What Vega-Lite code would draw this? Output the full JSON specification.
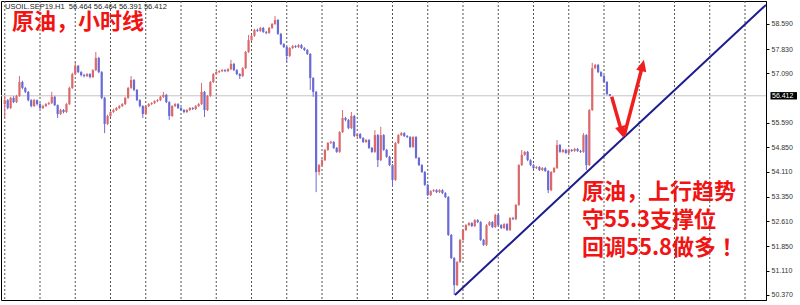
{
  "$schema": "https://vega.github.io/schema/vega-lite/v6.json",
  "width": 765,
  "height": 299,
  "autosize": {"type": "none"},
  "padding": {"left": 1, "top": 1, "right": 34, "bottom": 5},
  "background": "#ffffff",
  "config": {
    "view": {"stroke": "#000000", "strokeWidth": 1},
    "axisY": {
      "orient": "right", "title": null, "grid": false,
      "labelFont": "Liberation Sans", "labelFontSize": 7, "labelColor": "#333333",
      "tickColor": "#000000", "tickSize": 3, "domainColor": "#000000", "labelPadding": 2,
      "labelOverlap": false
    }
  },
  "datasets": {
    "candles": [
      {"t":0,"o":56.16,"h":56.41,"l":55.74,"c":56.28},
      {"t":1,"o":56.28,"h":56.31,"l":56.00,"c":56.04},
      {"t":2,"o":56.04,"h":56.38,"l":56.01,"c":56.35},
      {"t":3,"o":56.35,"h":56.40,"l":56.19,"c":56.22},
      {"t":4,"o":56.22,"h":56.44,"l":56.19,"c":56.41},
      {"t":5,"o":56.41,"h":57.01,"l":56.38,"c":56.83},
      {"t":6,"o":56.83,"h":56.87,"l":56.61,"c":56.65},
      {"t":7,"o":56.65,"h":56.68,"l":56.49,"c":56.53},
      {"t":8,"o":56.53,"h":56.56,"l":56.24,"c":56.28},
      {"t":9,"o":56.28,"h":56.31,"l":56.06,"c":56.10},
      {"t":10,"o":56.10,"h":56.32,"l":56.07,"c":56.28},
      {"t":11,"o":56.28,"h":56.30,"l":56.12,"c":56.16},
      {"t":12,"o":56.16,"h":56.19,"l":56.00,"c":56.04},
      {"t":13,"o":56.04,"h":56.14,"l":56.01,"c":56.10},
      {"t":14,"o":56.10,"h":56.19,"l":56.07,"c":56.16},
      {"t":15,"o":56.16,"h":56.23,"l":56.13,"c":56.19},
      {"t":16,"o":56.19,"h":56.53,"l":56.16,"c":56.38},
      {"t":17,"o":56.38,"h":56.41,"l":56.10,"c":56.13},
      {"t":18,"o":56.13,"h":56.15,"l":55.74,"c":55.86},
      {"t":19,"o":55.86,"h":56.02,"l":55.83,"c":55.98},
      {"t":20,"o":55.98,"h":56.01,"l":55.88,"c":55.92},
      {"t":21,"o":55.92,"h":56.19,"l":55.89,"c":56.16},
      {"t":22,"o":56.16,"h":56.69,"l":56.13,"c":56.65},
      {"t":23,"o":56.65,"h":57.11,"l":56.62,"c":57.07},
      {"t":24,"o":57.07,"h":57.44,"l":57.04,"c":57.32},
      {"t":25,"o":57.32,"h":57.35,"l":57.10,"c":57.13},
      {"t":26,"o":57.13,"h":57.16,"l":57.00,"c":57.04},
      {"t":27,"o":57.04,"h":57.08,"l":56.97,"c":57.01},
      {"t":28,"o":57.01,"h":57.10,"l":56.98,"c":57.07},
      {"t":29,"o":57.07,"h":57.10,"l":56.94,"c":56.98},
      {"t":30,"o":56.98,"h":57.22,"l":56.95,"c":57.19},
      {"t":31,"o":57.19,"h":57.74,"l":57.16,"c":57.56},
      {"t":32,"o":57.56,"h":57.59,"l":57.10,"c":57.13},
      {"t":33,"o":57.13,"h":57.16,"l":56.31,"c":56.35},
      {"t":34,"o":56.35,"h":56.38,"l":55.28,"c":55.56},
      {"t":35,"o":55.56,"h":55.84,"l":55.52,"c":55.80},
      {"t":36,"o":55.80,"h":55.95,"l":55.77,"c":55.92},
      {"t":37,"o":55.92,"h":56.02,"l":55.89,"c":55.98},
      {"t":38,"o":55.98,"h":56.07,"l":55.95,"c":56.04},
      {"t":39,"o":56.04,"h":56.13,"l":56.01,"c":56.10},
      {"t":40,"o":56.10,"h":56.19,"l":56.07,"c":56.16},
      {"t":41,"o":56.16,"h":56.38,"l":56.13,"c":56.35},
      {"t":42,"o":56.35,"h":56.68,"l":56.32,"c":56.65},
      {"t":43,"o":56.65,"h":57.01,"l":56.62,"c":56.89},
      {"t":44,"o":56.89,"h":56.92,"l":56.55,"c":56.59},
      {"t":45,"o":56.59,"h":56.62,"l":56.25,"c":56.28},
      {"t":46,"o":56.28,"h":56.31,"l":56.06,"c":56.10},
      {"t":47,"o":56.10,"h":56.13,"l":55.74,"c":55.86},
      {"t":48,"o":55.86,"h":56.13,"l":55.83,"c":56.10},
      {"t":49,"o":56.10,"h":56.19,"l":56.07,"c":56.16},
      {"t":50,"o":56.16,"h":56.22,"l":56.13,"c":56.19},
      {"t":51,"o":56.19,"h":56.28,"l":56.16,"c":56.25},
      {"t":52,"o":56.25,"h":56.31,"l":56.22,"c":56.28},
      {"t":53,"o":56.28,"h":56.41,"l":56.25,"c":56.38},
      {"t":54,"o":56.38,"h":56.53,"l":56.35,"c":56.44},
      {"t":55,"o":56.44,"h":56.47,"l":56.19,"c":56.22},
      {"t":56,"o":56.22,"h":56.25,"l":55.68,"c":55.80},
      {"t":57,"o":55.80,"h":56.13,"l":55.77,"c":56.10},
      {"t":58,"o":56.10,"h":56.19,"l":56.07,"c":56.16},
      {"t":59,"o":56.16,"h":56.19,"l":56.01,"c":56.04},
      {"t":60,"o":56.04,"h":56.07,"l":55.95,"c":55.98},
      {"t":61,"o":55.98,"h":56.01,"l":55.88,"c":55.92},
      {"t":62,"o":55.92,"h":56.01,"l":55.89,"c":55.98},
      {"t":63,"o":55.98,"h":56.07,"l":55.95,"c":56.04},
      {"t":64,"o":56.04,"h":56.07,"l":55.98,"c":56.01},
      {"t":65,"o":56.01,"h":56.13,"l":55.98,"c":56.10},
      {"t":66,"o":56.10,"h":56.19,"l":56.07,"c":56.16},
      {"t":67,"o":56.16,"h":56.80,"l":56.13,"c":56.53},
      {"t":68,"o":56.53,"h":56.56,"l":55.77,"c":55.98},
      {"t":69,"o":55.98,"h":56.44,"l":55.95,"c":56.41},
      {"t":70,"o":56.41,"h":56.86,"l":56.38,"c":56.83},
      {"t":71,"o":56.83,"h":57.10,"l":56.80,"c":57.07},
      {"t":72,"o":57.07,"h":57.16,"l":57.04,"c":57.13},
      {"t":73,"o":57.13,"h":57.19,"l":57.10,"c":57.16},
      {"t":74,"o":57.16,"h":57.22,"l":57.13,"c":57.19},
      {"t":75,"o":57.19,"h":57.22,"l":57.13,"c":57.16},
      {"t":76,"o":57.16,"h":57.25,"l":57.13,"c":57.22},
      {"t":77,"o":57.22,"h":57.50,"l":57.19,"c":57.38},
      {"t":78,"o":57.38,"h":57.41,"l":57.16,"c":57.19},
      {"t":79,"o":57.19,"h":57.22,"l":57.04,"c":57.07},
      {"t":80,"o":57.07,"h":57.10,"l":56.92,"c":57.01},
      {"t":81,"o":57.01,"h":57.28,"l":56.98,"c":57.25},
      {"t":82,"o":57.25,"h":57.77,"l":57.22,"c":57.74},
      {"t":83,"o":57.74,"h":58.26,"l":57.71,"c":58.10},
      {"t":84,"o":58.10,"h":58.26,"l":58.07,"c":58.23},
      {"t":85,"o":58.23,"h":58.44,"l":58.20,"c":58.41},
      {"t":86,"o":58.41,"h":58.45,"l":58.35,"c":58.38},
      {"t":87,"o":58.38,"h":58.50,"l":58.35,"c":58.47},
      {"t":88,"o":58.47,"h":58.50,"l":58.32,"c":58.35},
      {"t":89,"o":58.35,"h":58.38,"l":58.28,"c":58.32},
      {"t":90,"o":58.32,"h":58.50,"l":58.29,"c":58.47},
      {"t":91,"o":58.47,"h":58.62,"l":58.44,"c":58.59},
      {"t":92,"o":58.59,"h":58.83,"l":58.56,"c":58.71},
      {"t":93,"o":58.71,"h":58.74,"l":58.26,"c":58.29},
      {"t":94,"o":58.29,"h":58.32,"l":57.95,"c":57.98},
      {"t":95,"o":57.98,"h":58.01,"l":57.86,"c":57.89},
      {"t":96,"o":57.89,"h":57.92,"l":57.44,"c":57.62},
      {"t":97,"o":57.62,"h":57.89,"l":57.59,"c":57.86},
      {"t":98,"o":57.86,"h":57.95,"l":57.83,"c":57.92},
      {"t":99,"o":57.92,"h":57.95,"l":57.86,"c":57.89},
      {"t":100,"o":57.89,"h":57.98,"l":57.86,"c":57.95},
      {"t":101,"o":57.95,"h":57.98,"l":57.83,"c":57.86},
      {"t":102,"o":57.86,"h":57.89,"l":57.77,"c":57.80},
      {"t":103,"o":57.80,"h":57.83,"l":57.65,"c":57.68},
      {"t":104,"o":57.68,"h":57.71,"l":56.59,"c":56.95},
      {"t":105,"o":56.95,"h":56.98,"l":56.38,"c":56.53},
      {"t":106,"o":56.53,"h":56.56,"l":53.49,"c":54.10},
      {"t":107,"o":54.10,"h":54.34,"l":54.00,"c":54.31},
      {"t":108,"o":54.31,"h":54.50,"l":54.27,"c":54.46},
      {"t":109,"o":54.46,"h":54.80,"l":54.43,"c":54.77},
      {"t":110,"o":54.77,"h":55.01,"l":54.74,"c":54.98},
      {"t":111,"o":54.98,"h":55.05,"l":54.95,"c":55.01},
      {"t":112,"o":55.01,"h":55.04,"l":54.80,"c":54.83},
      {"t":113,"o":54.83,"h":54.86,"l":54.68,"c":54.71},
      {"t":114,"o":54.71,"h":55.34,"l":54.68,"c":55.31},
      {"t":115,"o":55.31,"h":55.98,"l":55.28,"c":55.74},
      {"t":116,"o":55.74,"h":55.77,"l":55.64,"c":55.68},
      {"t":117,"o":55.68,"h":55.71,"l":55.40,"c":55.43},
      {"t":118,"o":55.43,"h":55.92,"l":55.40,"c":55.80},
      {"t":119,"o":55.80,"h":55.83,"l":55.16,"c":55.19},
      {"t":120,"o":55.19,"h":55.28,"l":55.16,"c":55.25},
      {"t":121,"o":55.25,"h":55.28,"l":55.10,"c":55.13},
      {"t":122,"o":55.13,"h":55.16,"l":54.98,"c":55.01},
      {"t":123,"o":55.01,"h":55.10,"l":54.98,"c":55.07},
      {"t":124,"o":55.07,"h":55.10,"l":54.80,"c":54.83},
      {"t":125,"o":54.83,"h":54.86,"l":54.68,"c":54.71},
      {"t":126,"o":54.71,"h":55.37,"l":54.68,"c":55.22},
      {"t":127,"o":55.22,"h":55.25,"l":54.25,"c":54.46},
      {"t":128,"o":54.46,"h":55.47,"l":54.43,"c":55.22},
      {"t":129,"o":55.22,"h":55.25,"l":54.74,"c":54.77},
      {"t":130,"o":54.77,"h":54.80,"l":54.53,"c":54.56},
      {"t":131,"o":54.56,"h":54.59,"l":54.28,"c":54.31},
      {"t":132,"o":54.31,"h":54.34,"l":53.65,"c":53.86},
      {"t":133,"o":53.86,"h":55.01,"l":53.83,"c":54.98},
      {"t":134,"o":54.98,"h":55.25,"l":54.95,"c":55.22},
      {"t":135,"o":55.22,"h":55.31,"l":55.19,"c":55.28},
      {"t":136,"o":55.28,"h":55.31,"l":55.16,"c":55.19},
      {"t":137,"o":55.19,"h":55.22,"l":55.13,"c":55.16},
      {"t":138,"o":55.16,"h":55.19,"l":54.83,"c":54.86},
      {"t":139,"o":54.86,"h":55.19,"l":54.83,"c":55.16},
      {"t":140,"o":55.16,"h":55.19,"l":54.50,"c":54.53},
      {"t":141,"o":54.53,"h":54.56,"l":54.28,"c":54.31},
      {"t":142,"o":54.31,"h":54.34,"l":54.07,"c":54.10},
      {"t":143,"o":54.10,"h":54.13,"l":53.68,"c":53.71},
      {"t":144,"o":53.71,"h":53.74,"l":53.37,"c":53.40},
      {"t":145,"o":53.40,"h":53.55,"l":53.37,"c":53.52},
      {"t":146,"o":53.52,"h":53.58,"l":53.49,"c":53.55},
      {"t":147,"o":53.55,"h":53.58,"l":53.46,"c":53.49},
      {"t":148,"o":53.49,"h":53.58,"l":53.46,"c":53.55},
      {"t":149,"o":53.55,"h":53.58,"l":53.43,"c":53.46},
      {"t":150,"o":53.46,"h":53.49,"l":53.31,"c":53.34},
      {"t":151,"o":53.34,"h":53.37,"l":52.16,"c":52.19},
      {"t":152,"o":52.19,"h":52.22,"l":51.46,"c":51.49},
      {"t":153,"o":51.49,"h":51.52,"l":50.37,"c":50.67},
      {"t":154,"o":50.67,"h":51.40,"l":50.64,"c":51.37},
      {"t":155,"o":51.37,"h":52.07,"l":51.34,"c":52.04},
      {"t":156,"o":52.04,"h":52.37,"l":52.01,"c":52.34},
      {"t":157,"o":52.34,"h":52.52,"l":52.31,"c":52.49},
      {"t":158,"o":52.49,"h":52.58,"l":52.46,"c":52.55},
      {"t":159,"o":52.55,"h":52.58,"l":52.43,"c":52.46},
      {"t":160,"o":52.46,"h":52.67,"l":52.43,"c":52.64},
      {"t":161,"o":52.64,"h":52.67,"l":52.55,"c":52.58},
      {"t":162,"o":52.58,"h":52.61,"l":52.01,"c":52.04},
      {"t":163,"o":52.04,"h":52.07,"l":51.86,"c":51.89},
      {"t":164,"o":51.89,"h":52.52,"l":51.86,"c":52.49},
      {"t":165,"o":52.49,"h":52.61,"l":52.46,"c":52.58},
      {"t":166,"o":52.58,"h":52.61,"l":52.40,"c":52.43},
      {"t":167,"o":52.43,"h":52.83,"l":52.40,"c":52.80},
      {"t":168,"o":52.80,"h":52.83,"l":52.46,"c":52.49},
      {"t":169,"o":52.49,"h":52.52,"l":52.37,"c":52.40},
      {"t":170,"o":52.40,"h":52.55,"l":52.37,"c":52.52},
      {"t":171,"o":52.52,"h":52.55,"l":52.31,"c":52.34},
      {"t":172,"o":52.34,"h":52.73,"l":52.31,"c":52.70},
      {"t":173,"o":52.70,"h":52.74,"l":52.64,"c":52.67},
      {"t":174,"o":52.67,"h":53.13,"l":52.64,"c":53.10},
      {"t":175,"o":53.10,"h":54.34,"l":53.07,"c":54.31},
      {"t":176,"o":54.31,"h":54.77,"l":54.28,"c":54.62},
      {"t":177,"o":54.62,"h":54.74,"l":54.59,"c":54.71},
      {"t":178,"o":54.71,"h":54.74,"l":54.43,"c":54.46},
      {"t":179,"o":54.46,"h":54.49,"l":54.28,"c":54.31},
      {"t":180,"o":54.31,"h":54.34,"l":54.19,"c":54.22},
      {"t":181,"o":54.22,"h":54.28,"l":54.19,"c":54.25},
      {"t":182,"o":54.25,"h":54.28,"l":54.13,"c":54.16},
      {"t":183,"o":54.16,"h":54.25,"l":54.13,"c":54.22},
      {"t":184,"o":54.22,"h":54.25,"l":54.10,"c":54.13},
      {"t":185,"o":54.13,"h":54.16,"l":53.46,"c":53.55},
      {"t":186,"o":53.55,"h":54.13,"l":53.52,"c":54.10},
      {"t":187,"o":54.10,"h":54.25,"l":54.07,"c":54.22},
      {"t":188,"o":54.22,"h":55.07,"l":54.19,"c":54.92},
      {"t":189,"o":54.92,"h":54.95,"l":54.68,"c":54.71},
      {"t":190,"o":54.71,"h":54.80,"l":54.68,"c":54.77},
      {"t":191,"o":54.77,"h":54.80,"l":54.65,"c":54.68},
      {"t":192,"o":54.68,"h":54.80,"l":54.65,"c":54.77},
      {"t":193,"o":54.77,"h":54.80,"l":54.71,"c":54.74},
      {"t":194,"o":54.74,"h":54.83,"l":54.71,"c":54.80},
      {"t":195,"o":54.80,"h":54.83,"l":54.71,"c":54.74},
      {"t":196,"o":54.74,"h":54.77,"l":54.68,"c":54.71},
      {"t":197,"o":54.71,"h":55.28,"l":54.68,"c":55.22},
      {"t":198,"o":55.22,"h":55.25,"l":54.16,"c":54.31},
      {"t":199,"o":54.31,"h":56.01,"l":54.28,"c":55.98},
      {"t":200,"o":55.98,"h":57.41,"l":55.95,"c":57.25},
      {"t":201,"o":57.25,"h":57.38,"l":57.22,"c":57.35},
      {"t":202,"o":57.35,"h":57.38,"l":57.10,"c":57.13},
      {"t":203,"o":57.13,"h":57.16,"l":56.98,"c":57.01},
      {"t":204,"o":57.01,"h":57.04,"l":56.80,"c":56.83},
      {"t":205,"o":56.83,"h":56.86,"l":56.43,"c":56.464},
      {"t":206,"o":56.464,"h":56.464,"l":56.391,"c":56.412}
    ],
    "grid": [
      {"t":0},{"t":12},{"t":24},{"t":36},{"t":48},{"t":60},{"t":72},{"t":84},{"t":96},{"t":108},{"t":120},
      {"t":132},{"t":144},{"t":156},{"t":168},{"t":180},{"t":192},{"t":204},{"t":216},{"t":228},{"t":240},{"t":252}
    ],
    "trend": [
      {"t": 153.27, "p": 50.37},
      {"t": 259.15, "p": 59.17}
    ],
    "arrows": [
      {"arrow": "down", "t": 206.62, "p": 56.38},
      {"arrow": "down", "t": 209.95, "p": 55.34},
      {"arrow": "up", "t": 210.81, "p": 55.19},
      {"arrow": "up", "t": 217.07, "p": 57.31}
    ],
    "heads": [
      {"arrow": "down", "t": 209.95, "p": 55.34, "dir": 164},
      {"arrow": "up", "t": 217.07, "p": 57.31, "dir": 14}
    ],
    "notes": [
      {"t": 2.5, "p": 58.665, "text": "原油，小时线"},
      {"t": 196.5, "p": 53.48, "text": "原油，上行趋势"},
      {"t": 196.5, "p": 52.64, "text": "守55.3支撑位"},
      {"t": 196.5, "p": 51.81, "text": "回调55.8做多！"}
    ],
    "header": [
      {"t": 0.1, "p": 59.11, "text": "USOIL.SEP19.H1\u00a0\u00a056.464 56.464 56.391 56.412"}
    ],
    "last": [
      {"p": 56.412, "label": "56.412"}
    ]
  },
  "layer": [
    {
      "data": {"name": "grid"},
      "mark": {"type": "rule", "color": "#555555", "strokeWidth": 1, "strokeDash": [2, 2]},
      "encoding": {
        "x": {"field": "t", "type": "quantitative", "scale": {"domain": [-1.28, 259.15], "nice": false, "zero": false}, "axis": null}
      }
    },
    {
      "data": {"name": "last"},
      "mark": {"type": "rule", "color": "#c4c4c4", "strokeWidth": 1},
      "encoding": {
        "y": {"field": "p", "type": "quantitative", "scale": {"domain": [50.218, 59.287], "nice": false, "zero": false}, "axis": {"values": [50.37, 51.11, 51.85, 52.61, 53.35, 54.11, 54.85, 55.59, 57.09, 57.83, 58.59], "format": ".3f"}}
      }
    },
    {
      "data": {"name": "candles"},
      "mark": {"type": "rule", "strokeWidth": 1},
      "encoding": {
        "x": {"field": "t", "type": "quantitative", "scale": {"domain": [-1.28, 259.15], "nice": false, "zero": false}, "axis": null},
        "y": {"field": "l", "type": "quantitative", "scale": {"domain": [50.218, 59.287], "nice": false, "zero": false}, "axis": {"values": [50.37, 51.11, 51.85, 52.61, 53.35, 54.11, 54.85, 55.59, 57.09, 57.83, 58.59], "format": ".3f"}},
        "y2": {"field": "h"},
        "color": {"condition": {"test": "datum.c >= datum.o", "value": "#d9696b"}, "value": "#6a6ad4"}
      }
    },
    {
      "data": {"name": "candles"},
      "mark": {"type": "rule", "strokeWidth": 2.2},
      "encoding": {
        "x": {"field": "t", "type": "quantitative", "scale": {"domain": [-1.28, 259.15], "nice": false, "zero": false}, "axis": null},
        "y": {"field": "o", "type": "quantitative", "scale": {"domain": [50.218, 59.287], "nice": false, "zero": false}, "axis": {"values": [50.37, 51.11, 51.85, 52.61, 53.35, 54.11, 54.85, 55.59, 57.09, 57.83, 58.59], "format": ".3f"}},
        "y2": {"field": "c"},
        "color": {"condition": {"test": "datum.c >= datum.o", "value": "#d9696b"}, "value": "#6a6ad4"}
      }
    },
    {
      "data": {"name": "trend"},
      "mark": {"type": "line", "color": "#1c1c8e", "strokeWidth": 2},
      "encoding": {
        "x": {"field": "t", "type": "quantitative", "scale": {"domain": [-1.28, 259.15], "nice": false, "zero": false}, "axis": null},
        "y": {"field": "p", "type": "quantitative", "scale": {"domain": [50.218, 59.287], "nice": false, "zero": false}, "axis": {"values": [50.37, 51.11, 51.85, 52.61, 53.35, 54.11, 54.85, 55.59, 57.09, 57.83, 58.59], "format": ".3f"}}
      }
    },
    {
      "data": {"name": "arrows"},
      "mark": {"type": "line", "color": "#f01e1e", "strokeWidth": 3.5},
      "encoding": {
        "x": {"field": "t", "type": "quantitative", "scale": {"domain": [-1.28, 259.15], "nice": false, "zero": false}, "axis": null},
        "y": {"field": "p", "type": "quantitative", "scale": {"domain": [50.218, 59.287], "nice": false, "zero": false}, "axis": {"values": [50.37, 51.11, 51.85, 52.61, 53.35, 54.11, 54.85, 55.59, 57.09, 57.83, 58.59], "format": ".3f"}},
        "detail": {"field": "arrow"}
      }
    },
    {
      "data": {"name": "heads"},
      "mark": {"type": "point", "filled": true, "color": "#f01e1e", "opacity": 1, "shape": "M0,-1L0.8,0.75L-0.8,0.75Z", "size": 169},
      "encoding": {
        "x": {"field": "t", "type": "quantitative", "scale": {"domain": [-1.28, 259.15], "nice": false, "zero": false}, "axis": null},
        "y": {"field": "p", "type": "quantitative", "scale": {"domain": [50.218, 59.287], "nice": false, "zero": false}, "axis": {"values": [50.37, 51.11, 51.85, 52.61, 53.35, 54.11, 54.85, 55.59, 57.09, 57.83, 58.59], "format": ".3f"}},
        "angle": {"field": "dir", "type": "quantitative", "scale": null}
      }
    },
    {
      "data": {"name": "notes"},
      "mark": {"type": "text", "align": "left", "baseline": "middle", "font": "Noto Sans CJK JP", "fontWeight": "bold", "fontSize": 22, "color": "#f01414"},
      "encoding": {
        "x": {"field": "t", "type": "quantitative", "scale": {"domain": [-1.28, 259.15], "nice": false, "zero": false}, "axis": null},
        "y": {"field": "p", "type": "quantitative", "scale": {"domain": [50.218, 59.287], "nice": false, "zero": false}, "axis": {"values": [50.37, 51.11, 51.85, 52.61, 53.35, 54.11, 54.85, 55.59, 57.09, 57.83, 58.59], "format": ".3f"}},
        "text": {"field": "text"}
      }
    },
    {
      "data": {"name": "header"},
      "mark": {"type": "text", "align": "left", "baseline": "middle", "font": "Liberation Sans", "fontSize": 7.5, "color": "#222222"},
      "encoding": {
        "x": {"field": "t", "type": "quantitative", "scale": {"domain": [-1.28, 259.15], "nice": false, "zero": false}, "axis": null},
        "y": {"field": "p", "type": "quantitative", "scale": {"domain": [50.218, 59.287], "nice": false, "zero": false}, "axis": {"values": [50.37, 51.11, 51.85, 52.61, 53.35, 54.11, 54.85, 55.59, 57.09, 57.83, 58.59], "format": ".3f"}},
        "text": {"field": "text"}
      }
    },
    {
      "data": {"name": "last"},
      "mark": {"type": "rect", "color": "#000000", "xOffset": 4.5, "x2Offset": 31, "yOffset": -3.7, "y2Offset": 3.7},
      "encoding": {
        "x": {"datum": 259.15, "type": "quantitative", "scale": {"domain": [-1.28, 259.15], "nice": false, "zero": false}, "axis": null},
        "x2": {"datum": 259.15},
        "y": {"field": "p", "type": "quantitative", "scale": {"domain": [50.218, 59.287], "nice": false, "zero": false}, "axis": {"values": [50.37, 51.11, 51.85, 52.61, 53.35, 54.11, 54.85, 55.59, 57.09, 57.83, 58.59], "format": ".3f"}},
        "y2": {"field": "p"}
      }
    },
    {
      "data": {"name": "last"},
      "mark": {"type": "text", "align": "left", "baseline": "middle", "dx": 6, "font": "Liberation Sans", "fontSize": 7, "color": "#ffffff"},
      "encoding": {
        "x": {"datum": 259.15, "type": "quantitative", "scale": {"domain": [-1.28, 259.15], "nice": false, "zero": false}, "axis": null},
        "y": {"field": "p", "type": "quantitative", "scale": {"domain": [50.218, 59.287], "nice": false, "zero": false}, "axis": {"values": [50.37, 51.11, 51.85, 52.61, 53.35, 54.11, 54.85, 55.59, 57.09, 57.83, 58.59], "format": ".3f"}},
        "text": {"field": "label"}
      }
    }
  ]
}
